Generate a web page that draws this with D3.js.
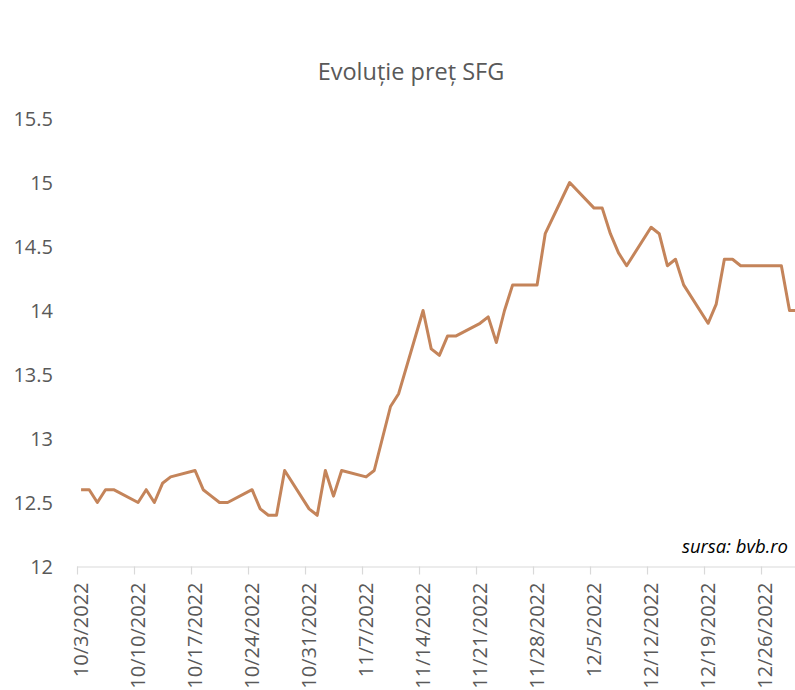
<!DOCTYPE html>
<html>
<head>
<meta charset="utf-8">
<script src="https://cdn.jsdelivr.net/npm/d3@7"></script>
<style>
  html, body { margin: 0; padding: 0; background: #fff; }
  svg { display: block; font-family: "Open Sans", sans-serif; }
</style>
</head>
<body>
<svg id="chart" width="795" height="690"></svg>
<script>
const title = "Evoluție preț SFG";
const sourceNote = "sursa: bvb.ro";

const dates = [
  "2022-10-03","2022-10-04","2022-10-05","2022-10-06","2022-10-07",
  "2022-10-10","2022-10-11","2022-10-12","2022-10-13","2022-10-14",
  "2022-10-17","2022-10-18","2022-10-19","2022-10-20","2022-10-21",
  "2022-10-24","2022-10-25","2022-10-26","2022-10-27","2022-10-28",
  "2022-10-31","2022-11-01","2022-11-02","2022-11-03","2022-11-04",
  "2022-11-07","2022-11-08","2022-11-09","2022-11-10","2022-11-11",
  "2022-11-14","2022-11-15","2022-11-16","2022-11-17","2022-11-18",
  "2022-11-21","2022-11-22","2022-11-23","2022-11-24","2022-11-25",
  "2022-11-28","2022-11-29","2022-12-02",
  "2022-12-05","2022-12-06","2022-12-07","2022-12-08","2022-12-09",
  "2022-12-12","2022-12-13","2022-12-14","2022-12-15","2022-12-16",
  "2022-12-19","2022-12-20","2022-12-21","2022-12-22","2022-12-23",
  "2022-12-27","2022-12-28","2022-12-29","2022-12-30"
];
const prices = [
  12.6, 12.6, 12.5, 12.6, 12.6,
  12.5, 12.6, 12.5, 12.65, 12.7,
  12.75, 12.6, 12.55, 12.5, 12.5,
  12.6, 12.45, 12.4, 12.4, 12.75,
  12.45, 12.4, 12.75, 12.55, 12.75,
  12.7, 12.75, 13.0, 13.25, 13.35,
  14.0, 13.7, 13.65, 13.8, 13.8,
  13.9, 13.95, 13.75, 14.0, 14.2,
  14.2, 14.6, 15.0,
  14.8, 14.8, 14.6, 14.45, 14.35,
  14.65, 14.6, 14.35, 14.4, 14.2,
  13.9, 14.05, 14.4, 14.4, 14.35,
  14.35, 14.35, 14.0, 14.0
];
const xTickLabels = [
  "10/3/2022","10/10/2022","10/17/2022","10/24/2022","10/31/2022",
  "11/7/2022","11/14/2022","11/21/2022","11/28/2022","12/5/2022",
  "12/12/2022","12/19/2022","12/26/2022"
];
const yTicks = [12, 12.5, 13, 13.5, 14, 14.5, 15, 15.5];

const parseISO = d3.timeParse("%Y-%m-%d");
const parseLbl = d3.timeParse("%m/%d/%Y");
const data = dates.map((d, i) => ({ date: d3.timeHour.offset(parseISO(d), 12), value: prices[i] }));
const tickDates = xTickLabels.map(s => parseLbl(s));

const svg = d3.select("#chart");
const textColor = "#595959";

const x0 = 77, dayW = 8.143;
const x = d3.scaleTime()
  .domain([parseISO("2022-10-03"), parseISO("2022-12-31")])
  .range([x0, x0 + 89 * dayW]);
const y = d3.scaleLinear().domain([12, 15.5]).range([566.5, 118.5]);

// Title
svg.append("text")
  .attr("x", 411).attr("y", 80)
  .attr("text-anchor", "middle")
  .attr("font-size", 23.5)
  .attr("fill", textColor)
  .text(title);

// Y axis labels
const yAxis = d3.axisLeft(y).tickValues(yTicks).tickSize(0).tickPadding(0)
  .tickFormat(d3.format("~g"));
svg.append("g")
  .attr("transform", "translate(53,0)")
  .call(yAxis)
  .call(g => g.select(".domain").remove())
  .call(g => g.selectAll("text")
    .attr("font-family", "'Open Sans', sans-serif")
    .attr("font-size", 20)
    .attr("fill", textColor)
    .attr("dy", "0.36em"));

// X axis
const xAxis = d3.axisBottom(x).tickValues(tickDates).tickSize(8).tickSizeOuter(0)
  .tickFormat((d, i) => xTickLabels[i]);
const gx = svg.append("g")
  .attr("transform", "translate(0,566.5)")
  .call(xAxis);
gx.select(".domain").attr("stroke", "#d9d9d9").attr("stroke-width", 1.2)
  .attr("d", `M${x0},0.5H800`);
gx.selectAll(".tick line").attr("stroke", "#d9d9d9").attr("stroke-width", 1.2);
gx.selectAll(".tick text")
  .attr("font-family", "'Open Sans', sans-serif")
  .attr("font-size", 20)
  .attr("fill", textColor)
  .attr("transform", "rotate(-90)")
  .attr("text-anchor", "end")
  .attr("x", -16)
  .attr("y", 10)
  .attr("dy", null);

// Line
const line = d3.line().x(d => x(d.date)).y(d => y(d.value));
svg.append("path")
  .datum(data)
  .attr("fill", "none")
  .attr("stroke", "#C4845A")
  .attr("stroke-width", 3)
  .attr("stroke-linejoin", "round")
  .attr("d", line);

// Source
svg.append("text")
  .attr("x", 788).attr("y", 553)
  .attr("text-anchor", "end")
  .attr("font-size", 18.5)
  .attr("font-style", "italic")
  .attr("fill", "#000")
  .text(sourceNote);
</script>
</body>
</html>
